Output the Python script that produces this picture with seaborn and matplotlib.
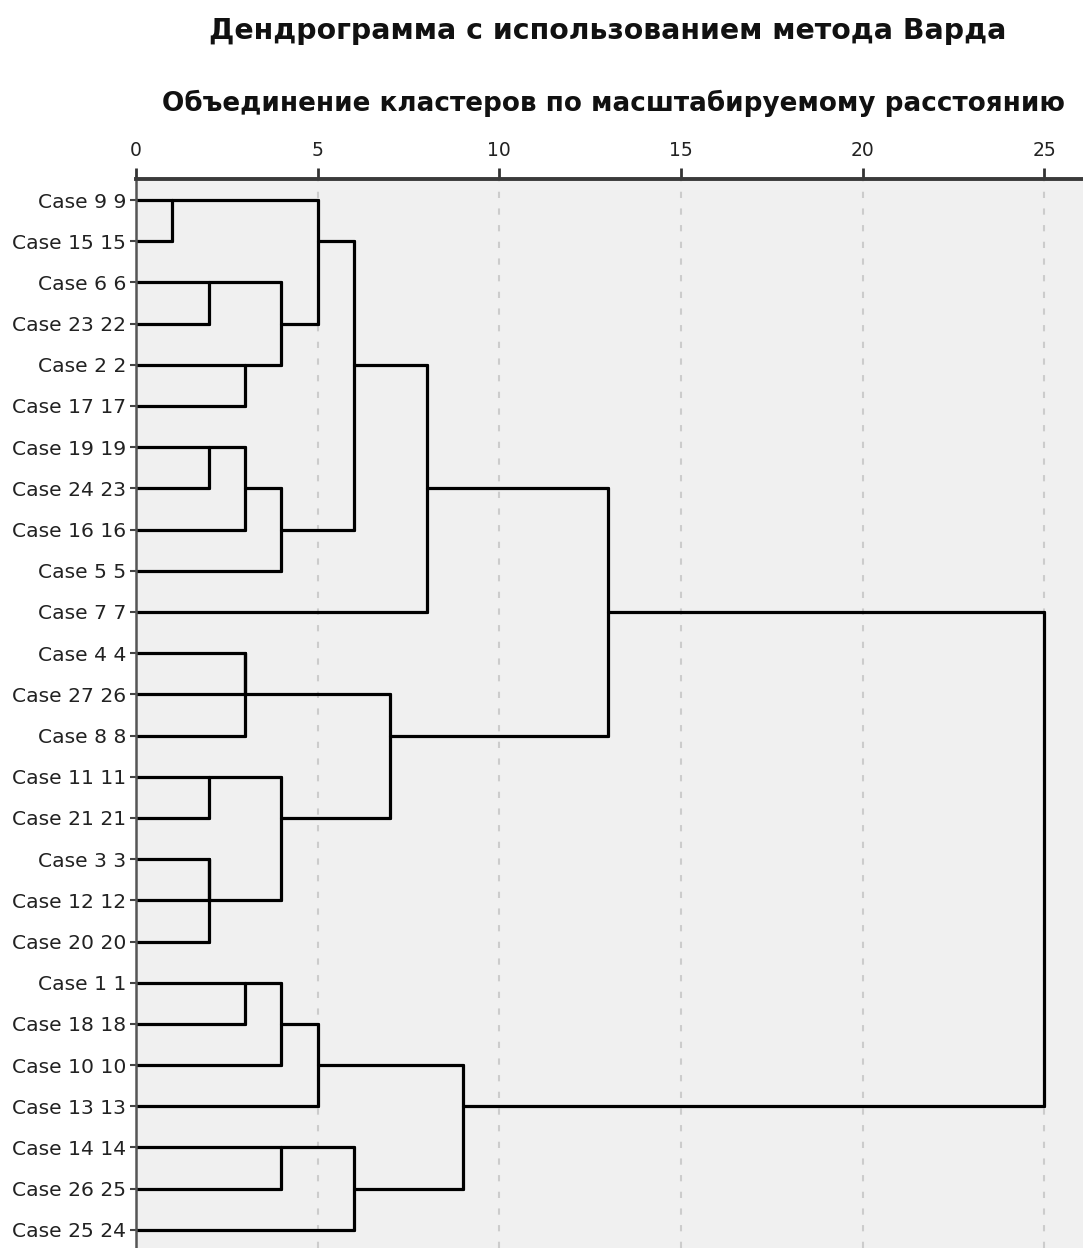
import matplotlib
matplotlib.use("Agg")
import matplotlib.pyplot as plt
import seaborn as sns
import pandas as pd
import numpy as np

# leaf labels, top to bottom
labels = ["Case 9 9", "Case 15 15", "Case 6 6", "Case 23 22", "Case 2 2",
          "Case 17 17", "Case 19 19", "Case 24 23", "Case 16 16", "Case 5 5",
          "Case 7 7", "Case 4 4", "Case 27 26", "Case 8 8", "Case 11 11",
          "Case 21 21", "Case 3 3", "Case 12 12", "Case 20 20", "Case 1 1",
          "Case 18 18", "Case 10 10", "Case 13 13", "Case 14 14",
          "Case 26 25", "Case 25 24"]

# agglomeration schedule: leaves are 0..25, new clusters get 26, 27, ...
merge_a = [0, 2, 6, 14, 16, 30, 4, 28, 11, 34, 19, 27, 33, 29, 36, 23,
           26, 40, 42, 41, 35, 44, 43, 47, 49]
merge_b = [1, 3, 7, 15, 17, 18, 5, 8, 12, 13, 20, 32, 9, 31, 21, 24,
           37, 22, 38, 25, 39, 10, 45, 46, 48]
merge_dist = [1, 2, 2, 2, 2, 2, 3, 3, 3, 3, 3, 4, 4, 4, 4, 4,
              5, 5, 6, 6, 7, 8, 9, 13, 25]

n = len(labels)
row = {i: i for i in range(n)}
height = {i: 0 for i in range(n)}

# SPSS style: a merged cluster continues on the row at the middle of its children
segs = []
for k, (a, b, d) in enumerate(zip(merge_a, merge_b, merge_dist)):
    for c in (a, b):
        segs.append((height[c], row[c], d, row[c]))
    segs.append((d, row[a], d, row[b]))
    node = n + k
    row[node] = int(np.floor((row[a] + row[b]) / 2))
    height[node] = d

recs = []
for i, (x0, y0, x1, y1) in enumerate(segs):
    recs.append({"seg": i, "x": x0, "y": y0})
    recs.append({"seg": i, "x": x1, "y": y1})
df = pd.DataFrame(recs)

sns.set_style("white", {"axes.facecolor": "#f0f0f0"})
plt.rcParams['font.family'] = ['DejaVu Sans']

fig = plt.figure(figsize=(10.83, 12.48), dpi=100)
ax = fig.add_axes([136 / 1083, 0, 1 - 136 / 1083, 1 - 179 / 1248])

sns.lineplot(data=df, x="x", y="y", units="seg", estimator=None, sort=False,
             color="black", lw=2.3, ax=ax, legend=False)

ax.set_xlim(0, 26.07)
ax.set_ylim(25.44, -0.51)
ax.xaxis.tick_top()
ax.set_xticks([0, 5, 10, 15, 20, 25])
ax.tick_params(axis="x", length=8, width=2, color="#333333", labelsize=13.5,
               labelcolor="#222222", pad=6)
ax.set_yticks(range(n))
ax.set_yticklabels(labels)
ax.tick_params(axis="y", length=4, width=1.5, color="#444444", labelsize=14.6,
               labelcolor="#222222", pad=3, left=True)
ax.set_xlabel("")
ax.set_ylabel("")
ax.grid(axis="x", ls=(0, (3, 5)), color="#cccccc", lw=1.5)
ax.set_axisbelow(True)

for s in ["right", "bottom"]:
    ax.spines[s].set_visible(False)
ax.spines["top"].set_color("#3a3a3a")
ax.spines["top"].set_linewidth(2.8)
ax.spines["left"].set_color("#555555")
ax.spines["left"].set_linewidth(1.8)

fig.text(608 / 1083, 1 - 31 / 1248, "Дендрограмма с использованием метода Варда",
         ha="center", va="center", fontsize=20.4, fontweight="bold", color="#111111")
fig.text(614 / 1083, 1 - 103 / 1248, "Объединение кластеров по масштабируемому расстоянию",
         ha="center", va="center", fontsize=18.9, fontweight="bold", color="#111111")

fig.savefig("out.png", dpi=100)
